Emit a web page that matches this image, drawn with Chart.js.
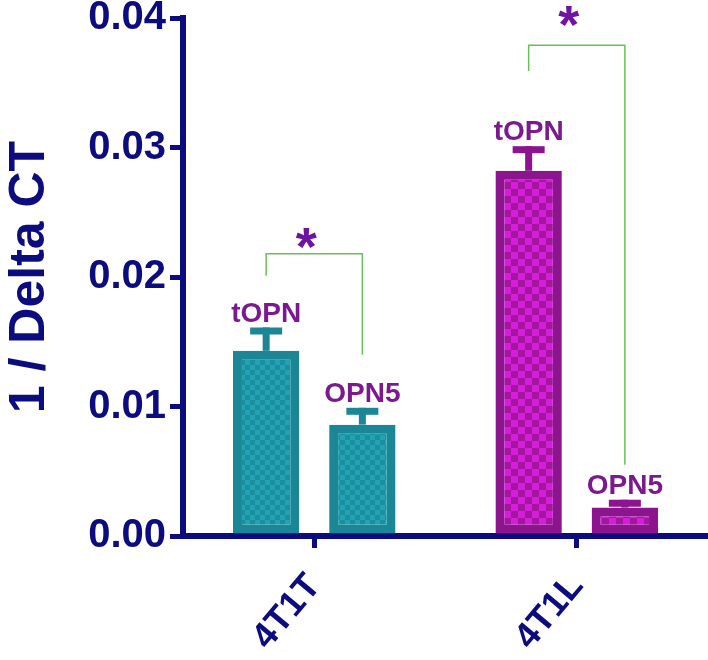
<!DOCTYPE html>
<html>
<head>
<meta charset="utf-8">
<script src="https://cdn.jsdelivr.net/npm/chart.js@4/dist/chart.umd.min.js"></script>
<style>
  html, body { margin: 0; padding: 0; background: #ffffff; }
  #wrap { width: 708px; height: 660px; position: relative; }
</style>
</head>
<body>
<div id="wrap"><canvas id="chart"></canvas></div>
<script>
// data
const categories = ['4T1T', '4T1L'];
const seriesNames = ['tOPN', 'OPN5'];
const tOPN = [0.0143, 0.0282];
const tOPNErr = [0.0018, 0.0019];
const OPN5 = [0.0086, 0.0022];
const OPN5Err = [0.0013, 0.0006];
const yTicks = [0, 0.01, 0.02, 0.03, 0.04];
// significance brackets: [top, left leg end, right leg end] in y units
const bracketTop = [0.0218, 0.0379];
const bracketLeftEnd = [0.0201, 0.0359];
const bracketRightEnd = [0.0140, 0.0055];
const sigText = ['*', '*'];
const sigLevel = [0.0230, 0.0401];

const NAVY = '#0c0c7e';
const LABEL_PURPLE = '#7a1a8e';
const GREEN = '#6abf5a';
const FONT = "'Liberation Sans', Arial, sans-serif";

// checker fill like the original bars
function checker(c1, c2, size) {
    const cv = document.createElement('canvas');
    cv.width = size * 2;
    cv.height = size * 2;
    const g = cv.getContext('2d');
    g.fillStyle = c1;
    g.fillRect(0, 0, size * 2, size * 2);
    g.fillStyle = c2;
    g.fillRect(0, 0, size, size);
    g.fillRect(size, size, size, size);
    return g.createPattern(cv, 'repeat');
}

const ctx = document.getElementById('chart').getContext('2d');
const tealFill = checker('#22a2b2', '#1a8f9f', 5);
const purpleFill = checker('#d41fda', '#a5159f', 7);
const borderCols = ['#1b8796', '#8c148f'];

const errBars = {
    id: 'errBars',
    afterDatasetsDraw(chart) {
        const c = chart.ctx;
        const y = chart.scales.y;
        const errs = [tOPNErr, OPN5Err];
        chart.data.datasets.forEach((ds, di) => {
            const meta = chart.getDatasetMeta(di);
            meta.data.forEach((bar, i) => {
                const top = y.getPixelForValue(ds.data[i] + errs[di][i]);
                c.save();
                c.fillStyle = borderCols[i];
                c.fillRect(bar.x - 3.5, top, 7, bar.y - top);
                c.fillRect(bar.x - 16, top, 32, 7);
                // series label above the cap
                c.fillStyle = LABEL_PURPLE;
                c.font = 'bold 28px ' + FONT;
                c.textAlign = 'center';
                c.textBaseline = 'alphabetic';
                c.fillText(seriesNames[di], bar.x, top - 6);
                c.restore();
            });
        });
        // brackets
        const m0 = chart.getDatasetMeta(0);
        const m1 = chart.getDatasetMeta(1);
        categories.forEach((cat, i) => {
            const xl = m0.data[i].x;
            const xr = m1.data[i].x;
            const yt = y.getPixelForValue(bracketTop[i]);
            c.save();
            c.strokeStyle = GREEN;
            c.lineWidth = 1.5;
            c.beginPath();
            c.moveTo(xl, y.getPixelForValue(bracketLeftEnd[i]));
            c.lineTo(xl, yt);
            c.lineTo(xr, yt);
            c.lineTo(xr, y.getPixelForValue(bracketRightEnd[i]));
            c.stroke();
            c.fillStyle = '#7014a0';
            c.font = 'bold 54px ' + FONT;
            c.textAlign = 'center';
            c.textBaseline = 'alphabetic';
            const m = c.measureText(sigText[i]);
            const mid = (m.actualBoundingBoxAscent - m.actualBoundingBoxDescent) / 2;
            c.fillText(sigText[i], (xl + xr) / 2 - 8, y.getPixelForValue(sigLevel[i]) + mid);
            c.restore();
        });
    }
};

new Chart(ctx, {
    type: 'bar',
    data: {
        labels: categories,
        datasets: [{
            label: seriesNames[0],
            data: tOPN,
            backgroundColor: [tealFill, purpleFill],
            borderColor: borderCols,
            borderWidth: 9,
            borderSkipped: false
        }, {
            label: seriesNames[1],
            data: OPN5,
            backgroundColor: [tealFill, purpleFill],
            borderColor: borderCols,
            borderWidth: 9,
            borderSkipped: false
        }]
    },
    options: {
        responsive: true,
        maintainAspectRatio: false,
        animation: false,
        categoryPercentage: 0.733,
        barPercentage: 0.69,
        layout: { padding: { top: 0, right: 0, left: 0, bottom: 0 } },
        plugins: {
            legend: { display: false },
            tooltip: { enabled: false }
        },
        scales: {
            x: {
                afterFit(scale) { scale.height = 124; },
                grid: {
                    display: true,
                    drawOnChartArea: false,
                    offset: false,
                    color: NAVY,
                    lineWidth: 5,
                    tickLength: 12
                },
                border: { color: NAVY, width: 6 },
                ticks: {
                    color: NAVY,
                    font: { family: FONT, size: 36, weight: 'bold' },
                    maxRotation: 50,
                    minRotation: 50,
                    padding: 18
                }
            },
            y: {
                min: 0,
                max: 0.04,
                afterFit(scale) { scale.width = 183; },
                afterBuildTicks(scale) {
                    scale.ticks = yTicks.map(v => ({ value: v }));
                },
                grid: {
                    display: true,
                    drawOnChartArea: false,
                    color: NAVY,
                    lineWidth: 5,
                    tickLength: 13
                },
                border: { color: NAVY, width: 6 },
                ticks: {
                    color: NAVY,
                    font: { family: FONT, size: 40, weight: 'bold', lineHeight: 0.7 },
                    padding: 4,
                    callback: v => v.toFixed(2)
                },
                title: {
                    display: true,
                    text: '1 / Delta CT',
                    color: NAVY,
                    font: { family: FONT, size: 50, weight: 'bold' },
                    padding: { top: 0, bottom: 0 }
                }
            }
        }
    },
    plugins: [errBars]
});
</script>
</body>
</html>
